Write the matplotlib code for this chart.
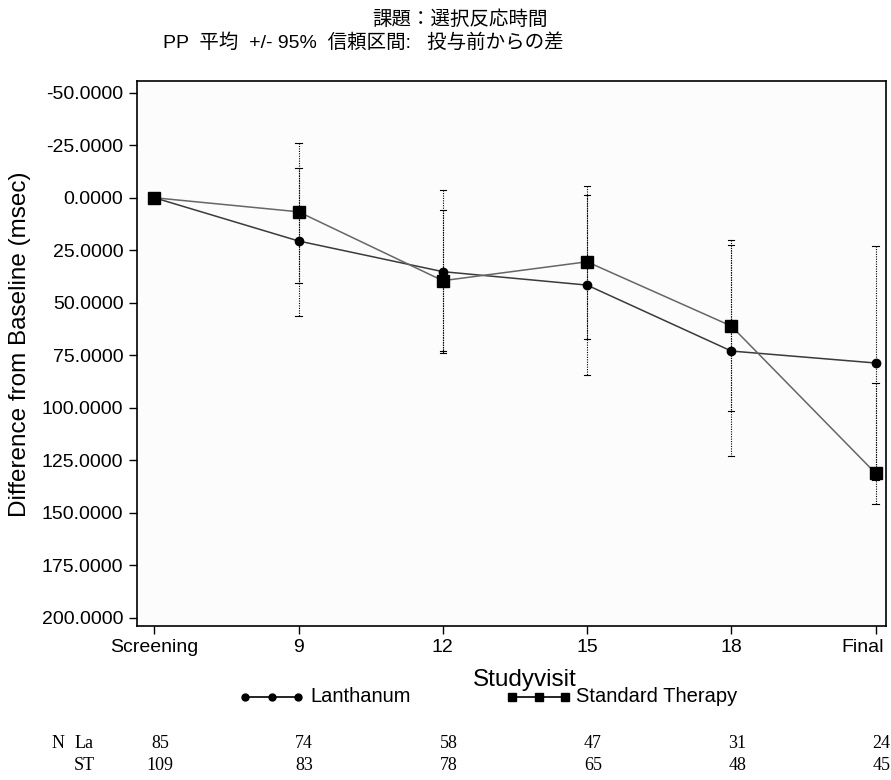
import matplotlib
matplotlib.use("Agg")
import matplotlib.pyplot as plt
import matplotlib.transforms as mtransforms
from matplotlib.lines import Line2D

plt.rcParams['font.family'] = ['Liberation Sans', 'Noto Sans CJK JP', 'DejaVu Sans']

visits = ["Screening", "9", "12", "15", "18", "Final"]
la_mean = [0.0, 20.6, 35.2, 41.6, 73.0, 78.7]
la_low = [0.0, -14.3, -3.7, -1.3, 22.5, 23.0]
la_high = [0.0, 56.3, 74.1, 84.4, 122.9, 134.4]
st_mean = [0.0, 6.7, 39.5, 30.5, 61.1, 131.2]
st_low = [0.0, -26.0, 5.9, -5.7, 20.1, 88.2]
st_high = [0.0, 40.6, 73.1, 67.3, 101.4, 146.0]
n_la = [85, 74, 58, 47, 31, 24]
n_st = [109, 83, 78, 65, 48, 45]
yticks = [-50, -25, 0, 25, 50, 75, 100, 125, 150, 175, 200]

fig = plt.figure(figsize=(8.91, 7.8), dpi=100)
ax = fig.add_axes([0.1534, 0.1978, 0.994 - 0.1534, 0.8962 - 0.1978])
x = list(range(len(visits)))

cap = 0.022
for mean, low, high in [(la_mean, la_low, la_high), (st_mean, st_low, st_high)]:
    for xi, m, lo, hi in zip(x, mean, low, high):
        if lo == hi:
            continue
        ax.plot([xi, xi], [lo, hi], color='black', lw=0.8, ls=(0, (1, 1.2)))
        ax.plot([xi - cap, xi + cap], [lo, lo], color='black', lw=0.8)
        ax.plot([xi - cap, xi + cap], [hi, hi], color='black', lw=0.8)

ax.plot(x, la_mean, color='#3a3a3a', lw=1.1, marker='o', ms=6,
        mfc='black', mec='black')
ax.plot(x, st_mean, color='#666666', lw=1.1, marker='s', ms=9,
        mfc='black', mec='black')

ax.set_xlim(-0.122, 5.07)
ax.set_ylim(203.8, -55.6)
ax.set_xticks(x)
ax.set_xticklabels(visits[:-1] + [""], fontsize=14)
# last tick label shifted left so it stays inside the figure, as in the reference
lab_trans = mtransforms.blended_transform_factory(ax.transData, fig.transFigure)
fig.text(x[-1], 1 - 648 / 780, visits[-1], fontsize=14, ha='center', va='center',
         transform=lab_trans + mtransforms.ScaledTranslation(-13 / 100, 0, fig.dpi_scale_trans))
ax.set_yticks(yticks)
ax.set_yticklabels([f"{v:.4f}" for v in yticks], fontsize=14)
ax.tick_params(direction='out', length=6, width=1)
for s in ax.spines.values():
    s.set_linewidth(1.2)
ax.set_facecolor('#fcfcfc')

fig.text(525 / 891, 1 - 680 / 780, "Studyvisit", ha='center', va='center', fontsize=17.5)
fig.text(20 / 891, 1 - 344 / 780, "Difference from Baseline (msec)", ha='center',
         va='center', rotation=90, fontsize=17.5)

fig.text(460 / 891, 1 - 20 / 780, "課題：選択反応時間", ha='center', va='center', fontsize=14)
fig.text(163 / 891, 1 - 43 / 780, "PP  平均  +/- 95%  信頼区間:   投与前からの差",
         ha='left', va='center', fontsize=14)

# legend
ly = 1 - 697 / 780
fig.add_artist(Line2D([245 / 891, 298 / 891], [ly, ly], color='black', lw=1.2))
for px in [245, 271.5, 298]:
    fig.add_artist(Line2D([px / 891], [ly], marker='o', ms=5, color='black'))
fig.text(310 / 891, ly, "Lanthanum", ha='left', va='center', fontsize=14.5)
fig.add_artist(Line2D([512 / 891, 565 / 891], [ly, ly], color='black', lw=1.2))
for px in [512, 538.5, 565]:
    fig.add_artist(Line2D([px / 891], [ly], marker='s', ms=6, color='black'))
fig.text(576 / 891, ly, "Standard Therapy", ha='left', va='center', fontsize=14.5)

# N table
trans = mtransforms.blended_transform_factory(ax.transData, fig.transFigure)
serif = 'Liberation Serif'
y1 = 1 - 744 / 780
y2 = 1 - 765 / 780
fs = 13
fig.text(58 / 891, y1, "N", family=serif, fontsize=fs, ha='center', va='center')
fig.text(84 / 891, y1, "La", family=serif, fontsize=fs, ha='center', va='center')
fig.text(84 / 891, y2, "ST", family=serif, fontsize=fs, ha='center', va='center')
for xi, a, b in zip(x, n_la, n_st):
    fig.text(xi + 0.04, y1, str(a), family=serif, fontsize=fs, ha='center', va='center', transform=trans)
    fig.text(xi + 0.04, y2, str(b), family=serif, fontsize=fs, ha='center', va='center', transform=trans)

fig.savefig("out.png", dpi=100)
